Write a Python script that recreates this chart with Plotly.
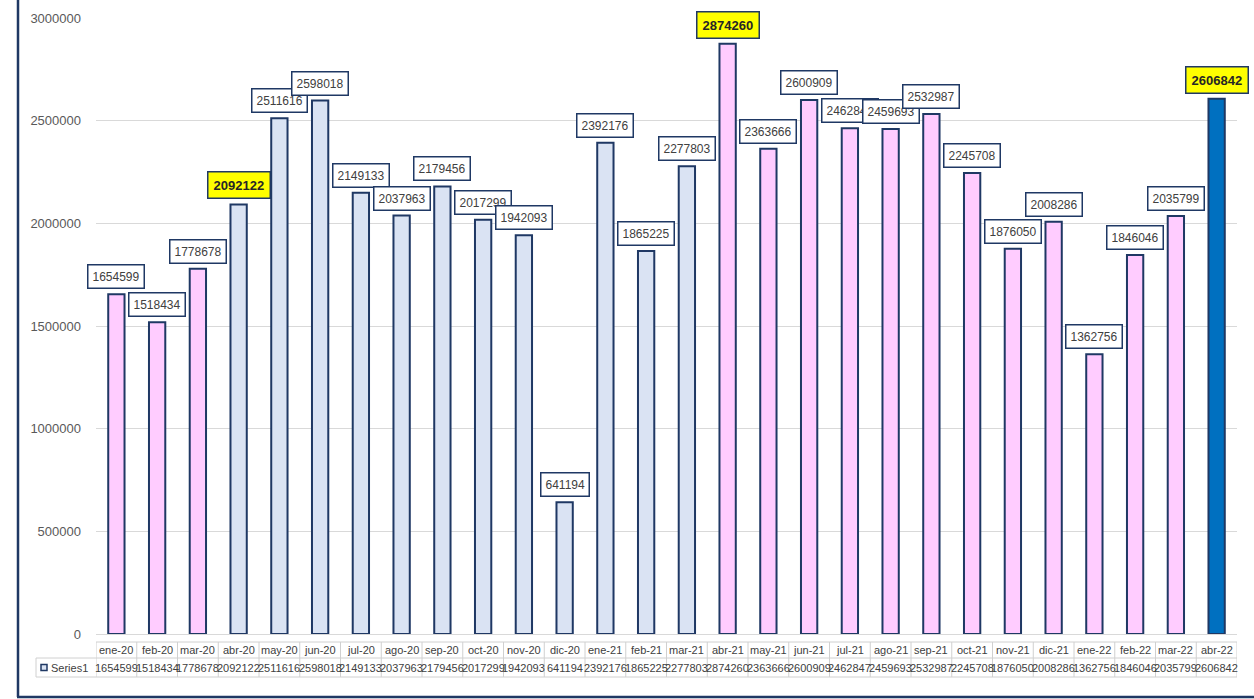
import plotly.graph_objects as go

months = ["ene-20", "feb-20", "mar-20", "abr-20", "may-20", "jun-20", "jul-20", "ago-20",
          "sep-20", "oct-20", "nov-20", "dic-20", "ene-21", "feb-21", "mar-21", "abr-21",
          "may-21", "jun-21", "jul-21", "ago-21", "sep-21", "oct-21", "nov-21", "dic-21",
          "ene-22", "feb-22", "mar-22", "abr-22"]
values = [1654599, 1518434, 1778678, 2092122, 2511616, 2598018, 2149133, 2037963,
          2179456, 2017299, 1942093, 641194, 2392176, 1865225, 2277803, 2874260,
          2363666, 2600909, 2462847, 2459693, 2532987, 2245708, 1876050, 2008286,
          1362756, 1846046, 2035799, 2606842]
highlight = ["abr-20", "abr-21", "abr-22"]
series_name = "Series1"
y_ticks = [0, 500000, 1000000, 1500000, 2000000, 2500000, 3000000]

PINK = "#FFCCFF"
LIGHT = "#DAE3F3"
DARK = "#0070C0"
NAVY = "#1F3864"
pink_months = set(months[0:3] + months[15:27])
bar_colors = [DARK if m == "abr-22" else (PINK if m in pink_months else LIGHT) for m in months]

FONT = "Liberation Sans, Arial, sans-serif"
W, H = 1254, 699
ML, MR, MT, MB = 30, 17, 18, 65
PW = W - ML - MR
PH = H - MT - MB


def px_x(p):
    return (p - ML) / PW


def px_y(p):
    return (H - MB - p) / PH


fig = go.Figure()
fig.add_trace(go.Bar(
    x=months, y=values, width=0.4, name=series_name,
    marker=dict(color=bar_colors, line=dict(color=NAVY, width=2)),
    hoverinfo="x+y", xaxis="x", yaxis="y",
))
fig.add_trace(go.Scatter(
    x=months, y=[0] * len(months), mode="markers", marker=dict(opacity=0),
    hoverinfo="skip", showlegend=False, xaxis="x2", yaxis="y",
))

annotations = []
for m, v in zip(months, values):
    hl = m in highlight
    annotations.append(dict(
        x=m, y=v, xref="x", yref="y", yanchor="bottom", yshift=5,
        text=f"<b>{v}</b>" if hl else str(v), showarrow=False,
        font=dict(family=FONT, size=13 if hl else 12, color="#262626" if hl else "#404040"),
        bgcolor="#FFFF00" if hl else "#FFFFFF",
        bordercolor=NAVY, borderwidth=1.5, borderpad=5 if hl else 4,
    ))

# data table
y_r0, y_r1, y_r2 = px_y(642), px_y(658), px_y(677)
shapes = []
grid = "#D0D0D0"
n = len(months)
shapes.append(dict(type="line", xref="x2", yref="paper", x0=-0.5, x1=n - 0.5, y0=y_r0, y1=y_r0,
                   line=dict(color=grid, width=1)))
for yy in (y_r1, y_r2):
    shapes.append(dict(type="line", xref="paper", yref="paper", x0=px_x(36), x1=1, y0=yy, y1=yy,
                       line=dict(color=grid, width=1)))
for k in range(n + 1):
    shapes.append(dict(type="line", xref="x2", yref="paper", x0=k - 0.5, x1=k - 0.5, y0=y_r0, y1=y_r2,
                       line=dict(color=grid, width=1)))
shapes.append(dict(type="line", xref="paper", yref="paper", x0=px_x(36), x1=px_x(36), y0=y_r1, y1=y_r2,
                   line=dict(color=grid, width=1)))
# legend key
shapes.append(dict(type="rect", xref="paper", yref="paper", x0=px_x(41), x1=px_x(47),
                   y0=px_y(670.5), y1=px_y(664.5), fillcolor=LIGHT, line=dict(color=NAVY, width=1.5)))
# outer frame
shapes.append(dict(type="line", xref="paper", yref="paper", x0=px_x(18), x1=px_x(18),
                   y0=px_y(0), y1=px_y(697), line=dict(color=NAVY, width=2.5)))
shapes.append(dict(type="line", xref="paper", yref="paper", x0=px_x(17), x1=px_x(1256),
                   y0=px_y(697), y1=px_y(697), line=dict(color=NAVY, width=2.5)))

for m, v in zip(months, values):
    annotations.append(dict(x=m, y=(y_r0 + y_r1) / 2, xref="x2", yref="paper", text=m, showarrow=False,
                            yanchor="middle", font=dict(family=FONT, size=11, color="#404040")))
    annotations.append(dict(x=m, y=(y_r1 + y_r2) / 2, xref="x2", yref="paper", text=str(v), showarrow=False,
                            yanchor="middle", font=dict(family=FONT, size=11, color="#404040")))
annotations.append(dict(x=px_x(49), y=(y_r1 + y_r2) / 2, xref="paper", yref="paper", text=series_name,
                        showarrow=False, xanchor="left", yanchor="middle",
                        font=dict(family=FONT, size=11, color="#404040")))

fig.update_layout(
    width=W, height=H,
    margin=dict(l=ML, r=MR, t=MT, b=MB),
    paper_bgcolor="white", plot_bgcolor="white",
    showlegend=False,
    font=dict(family=FONT),
    xaxis=dict(domain=[px_x(96), 1], type="category", categoryarray=months, range=[-0.5, n - 0.5],
               showticklabels=False, showgrid=False, zeroline=False, showline=False, ticks=""),
    xaxis2=dict(domain=[px_x(88), 1], type="category", categoryarray=months, range=[-0.5, n - 0.5],
                overlaying="x", anchor="y", visible=False),
    yaxis=dict(range=[0, 3000000], tickvals=y_ticks, ticktext=[str(t) for t in y_ticks],
               showgrid=True, gridcolor="#D9D9D9", gridwidth=1, zeroline=True, zerolinecolor="#D9D9D9",
               zerolinewidth=1, showline=False, ticks="", ticklabelstandoff=14,
               tickfont=dict(family=FONT, size=13, color="#595959"), fixedrange=True),
    bargap=0.6,
    shapes=shapes,
    annotations=annotations,
)

fig.write_html("out.html", config={"displayModeBar": False},
               post_script="document.body.style.margin='0px';document.body.style.overflow='hidden';")
